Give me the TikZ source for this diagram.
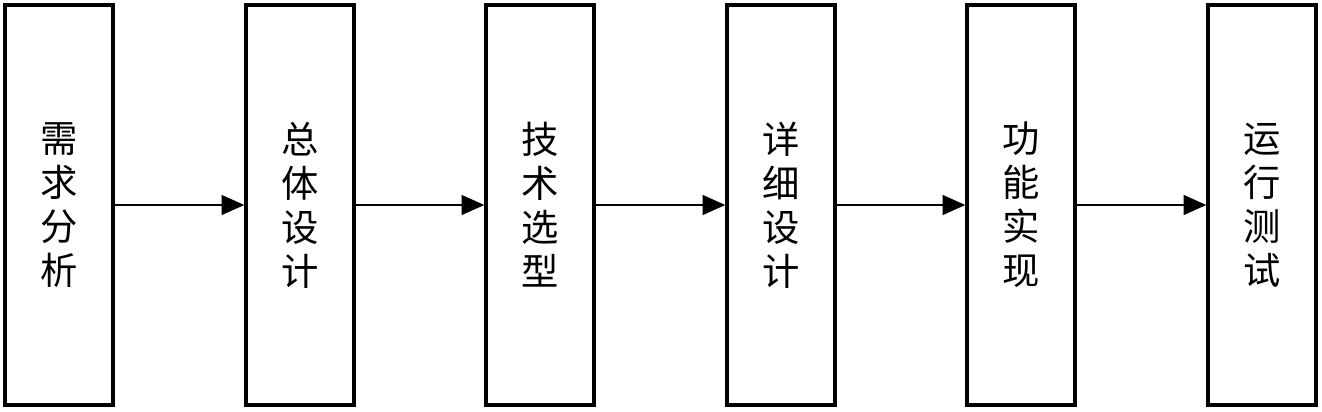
\documentclass[tikz,border=0pt]{standalone}
\usepackage{fontspec}
\newfontfamily\cjk{Noto Sans CJK SC}
\usetikzlibrary{arrows.meta}
\tikzset{
  stage/.style={draw=black, line width=2.6pt, minimum width=81pt, minimum height=300pt,
    inner sep=0pt, align=center, font=\cjk\fontsize{28}{33}\selectfont},
  flow/.style={draw=black, line width=0.9pt, -{Triangle[length=17pt,width=15pt]}}
}
\begin{document}
\begin{tikzpicture}[x=0.75pt,y=-0.75pt]
\useasboundingbox (0,0) rectangle (1322,411);
\node[stage] (a) at (59,205) {需\\求\\分\\析};
\node[stage] (b) at (300,205) {总\\体\\设\\计};
\node[stage] (c) at (540,205) {技\\术\\选\\型};
\node[stage] (d) at (781,205) {详\\细\\设\\计};
\node[stage] (e) at (1021,205) {功\\能\\实\\现};
\node[stage] (f) at (1262,205) {运\\行\\测\\试};
\draw[flow] (a) -- (b);
\draw[flow] (b) -- (c);
\draw[flow] (c) -- (d);
\draw[flow] (d) -- (e);
\draw[flow] (e) -- (f);
\end{tikzpicture}
\end{document}
